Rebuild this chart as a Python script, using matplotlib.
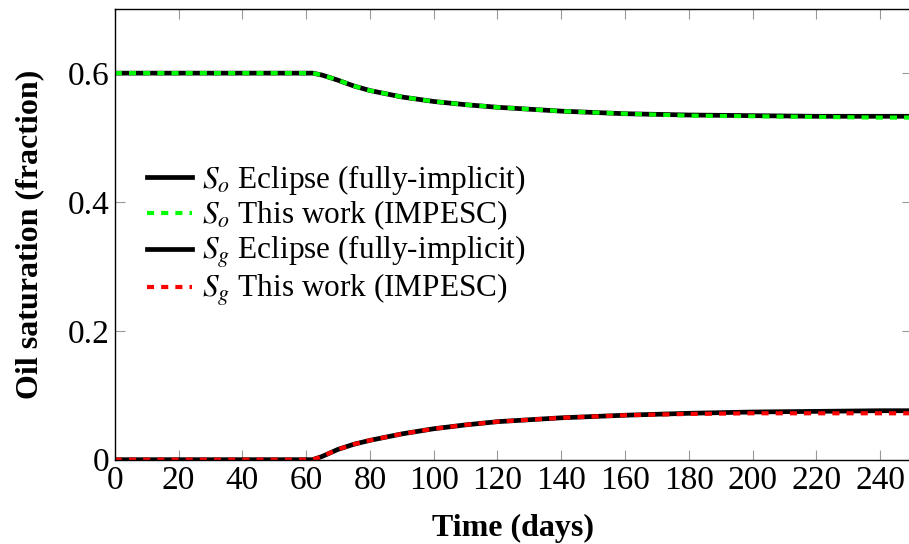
import matplotlib
matplotlib.use("Agg")
import matplotlib.pyplot as plt

plt.rcParams['font.family'] = ['Liberation Serif', 'DejaVu Serif']
plt.rcParams['mathtext.fontset'] = 'stix'

# time in days
t = [0, 10, 20, 30, 40, 50, 60, 62, 65, 70, 75, 80, 90, 100, 110, 120,
     140, 160, 180, 200, 220, 240, 250]

so_eclipse = [0.6, 0.6, 0.6, 0.6, 0.6, 0.6, 0.6, 0.6, 0.597, 0.589, 0.580, 0.573,
              0.563, 0.556, 0.551, 0.547, 0.541, 0.537, 0.535, 0.534, 0.533, 0.533, 0.533]
so_impesc = [0.6, 0.6, 0.6, 0.6, 0.6, 0.6, 0.6, 0.6, 0.597, 0.589, 0.580, 0.573,
             0.563, 0.556, 0.551, 0.547, 0.541, 0.537, 0.534, 0.533, 0.532, 0.531, 0.531]
sg_eclipse = [0, 0, 0, 0, 0, 0, 0, 0, 0.005, 0.016, 0.024, 0.030,
              0.040, 0.048, 0.054, 0.059, 0.065, 0.069, 0.072, 0.074, 0.075, 0.076, 0.076]
sg_impesc = [0, 0, 0, 0, 0, 0, 0, 0, 0.005, 0.016, 0.024, 0.030,
             0.040, 0.048, 0.054, 0.059, 0.065, 0.069, 0.071, 0.072, 0.072, 0.072, 0.072]

fig = plt.figure(figsize=(9.09, 5.44), dpi=100)
ax = fig.add_axes([0.1263, 0.155, 1.0033 - 0.1263, 0.984 - 0.155])

dash = (0, (1.7, 1.7))
ax.plot(t, so_eclipse, color='black', lw=3.4, label=r'$S_o$ Eclipse (fully-implicit)')
ax.plot(t, so_impesc, color='#00ff00', lw=3, linestyle=dash, label=r'$S_o$ This work (IMPESC)')
ax.plot(t, sg_eclipse, color='black', lw=3.4, label=r'$S_g$ Eclipse (fully-implicit)')
ax.plot(t, sg_impesc, color='red', lw=3, linestyle=dash, label=r'$S_g$ This work (IMPESC)')

ax.set_xlim(0, 250)
ax.set_ylim(0, 0.7)
ax.set_xticks(range(0, 250, 20))
ax.set_yticks([0, 0.2, 0.4, 0.6])
ax.set_yticklabels(['0', '0.2', '0.4', '0.6'])
ax.tick_params(direction='in', length=7.2, width=0.8, color='#999999',
               top=True, right=True, labelsize=24, pad=4)
for s in ax.spines.values():
    s.set_linewidth(1)

ax.set_xlabel('Time (days)', fontsize=23, fontweight='bold', labelpad=13)
ax.set_ylabel('Oil saturation (fraction)', fontsize=23, fontweight='bold', labelpad=17)

ax.legend(loc='upper left', bbox_to_anchor=(0.005, 0.72), frameon=False,
          fontsize=22.5, handlelength=1.45, handletextpad=0.3, labelspacing=0.05)

fig.savefig('out.png', dpi=100)
